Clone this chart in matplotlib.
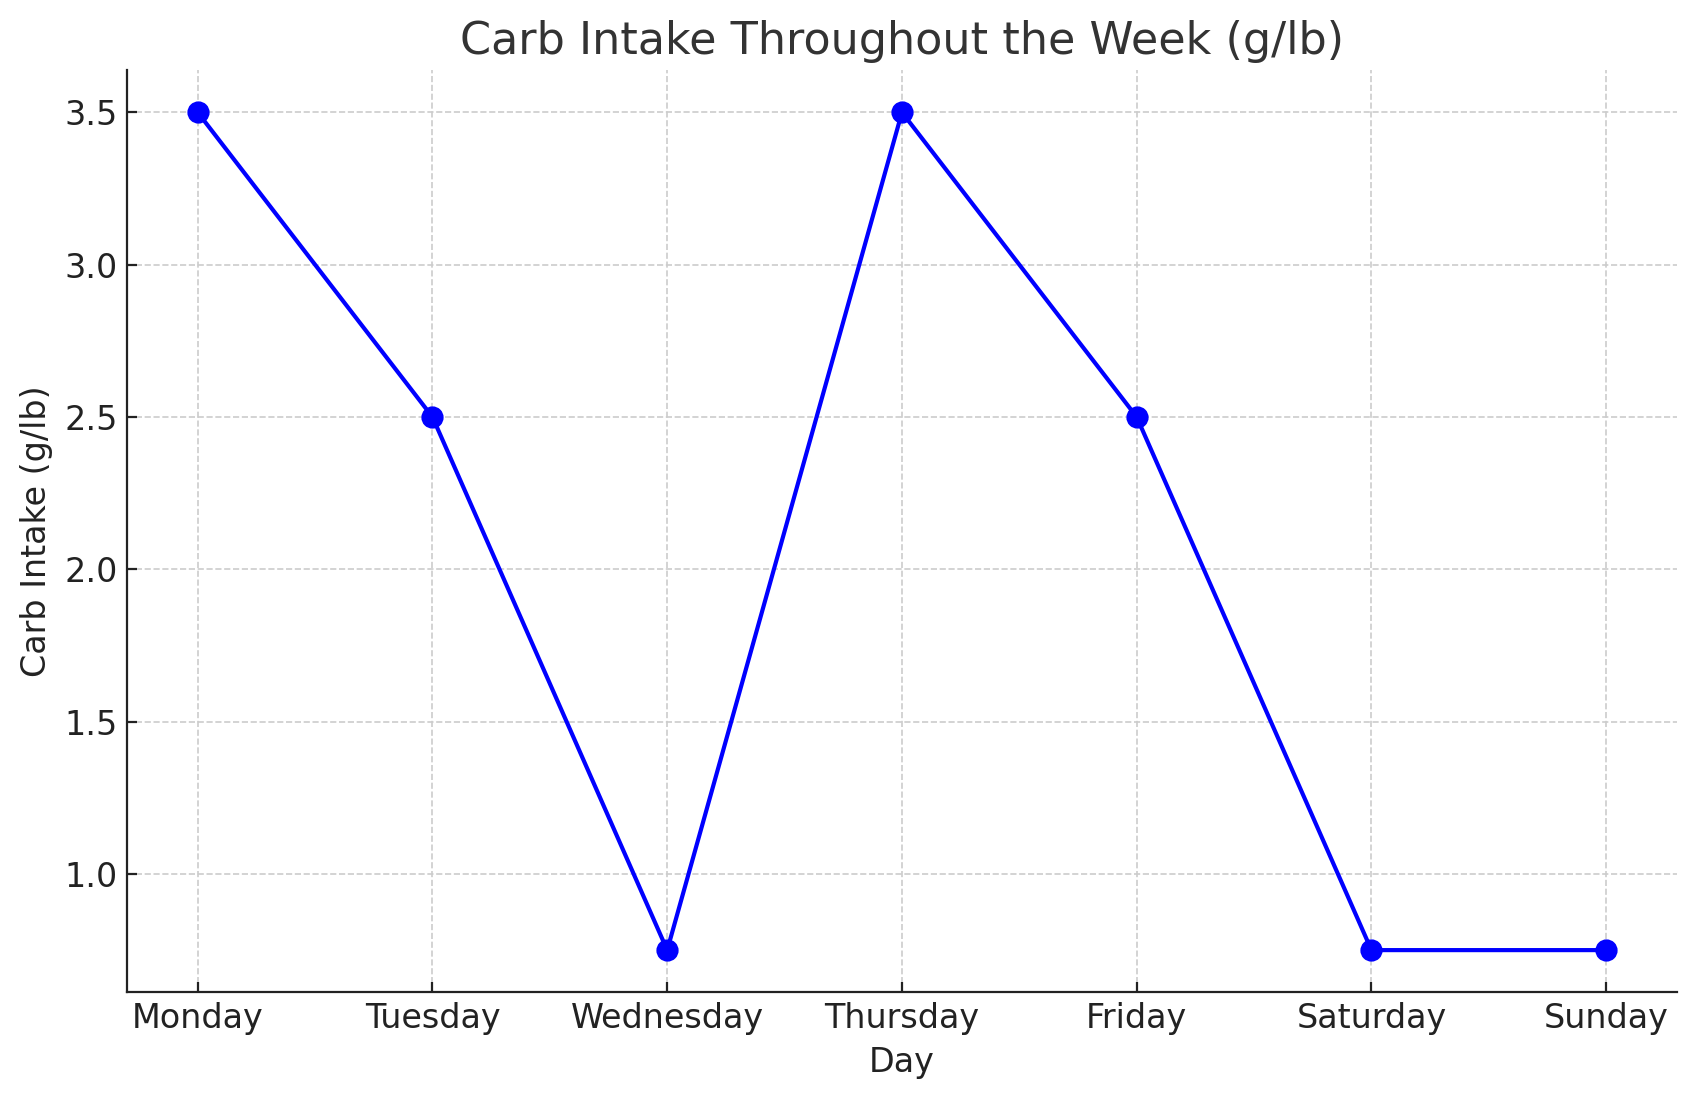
import matplotlib
matplotlib.use("Agg")
import matplotlib.pyplot as plt

days = ["Monday", "Tuesday", "Wednesday", "Thursday", "Friday", "Saturday", "Sunday"]
carbs = [3.5, 2.5, 0.75, 3.5, 2.5, 0.75, 0.75]

fig, ax = plt.subplots(figsize=(8.485, 5.505), dpi=200)
ax.plot(days, carbs, marker="o", color="blue", linewidth=1.5, markersize=7)
ax.set_title("Carb Intake Throughout the Week (g/lb)", fontsize=16, color="#333333")
ax.set_xlabel("Day", fontsize=12, color="#222222")
ax.set_ylabel("Carb Intake (g/lb)", fontsize=12, color="#222222")
ax.tick_params(labelsize=12, colors="#222222", direction="in")
ax.grid(True, linestyle="--", color="#cccccc", linewidth=0.6)
ax.spines["top"].set_visible(False)
ax.spines["right"].set_visible(False)
for s in ("left", "bottom"):
    ax.spines[s].set_color("#222222")
fig.subplots_adjust(left=0.075, right=0.988, top=0.936, bottom=0.099)
fig.savefig("out.png", dpi=200)
